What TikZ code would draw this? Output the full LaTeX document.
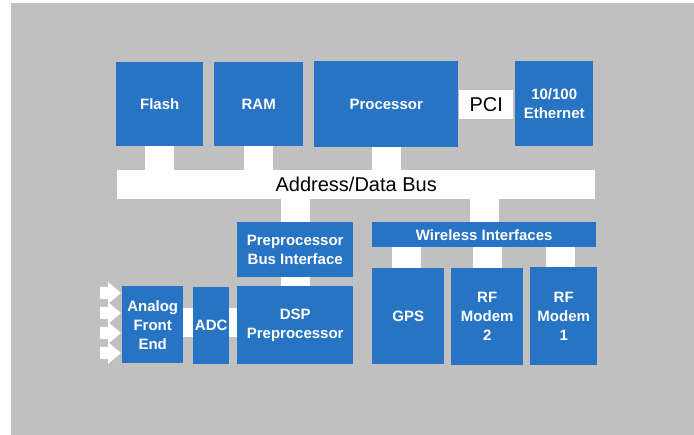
\documentclass[tikz,border=0pt]{standalone}
\usepackage{fontspec}
\setmainfont{Liberation Sans}
\definecolor{blockblue}{RGB}{40,116,196}
\definecolor{panelgray}{RGB}{192,192,192}
\begin{document}
\begin{tikzpicture}[x=1pt,y=-1pt,
  block/.style={fill=blockblue, text=white, inner sep=0pt, anchor=north west,
    align=center, font=\fontsize{15}{19}\selectfont\bfseries},
  whitebox/.style={fill=white, text=black, inner sep=0pt, anchor=north west,
    align=center, font=\fontsize{20}{24}\selectfont},
  bar/.style={draw=white, line width=29pt, line cap=butt},
  inarrow/.style={fill=white, draw=none}]
\useasboundingbox (0,0) rectangle (694,435);
\fill[panelgray] (11,3) rectangle (694,435);

% top row
\node[block, minimum width=87pt, minimum height=84pt] (flash) at (116,62) {Flash};
\node[block, minimum width=89pt, minimum height=84pt] (ram) at (214,62) {RAM};
\node[block, minimum width=144pt, minimum height=86pt] (proc) at (314,61) {Processor};
\node[whitebox, minimum width=54pt, minimum height=29pt] (pci) at (459,90) {PCI};
\node[block, minimum width=78pt, minimum height=85pt] (eth) at (515,61) {10/100\\Ethernet};

% system bus
\node[whitebox, minimum width=478pt, minimum height=29pt] (bus) at (117,170) {Address/Data Bus};

% DSP chain
\node[block, minimum width=116pt, minimum height=55pt] (pbi) at (237,222) {Preprocessor\\Bus Interface};
\node[block, minimum width=116pt, minimum height=78pt] (dsp) at (237,286) {DSP\\Preprocessor};
\node[block, minimum width=61pt, minimum height=77pt] (afe) at (122,286) {Analog\\Front\\End};
\node[block, minimum width=36pt, minimum height=77pt] (adc) at (193,287) {ADC};

% wireless side
\node[block, minimum width=224pt, minimum height=25pt] (wi) at (372,222) {Wireless Interfaces};
\node[block, minimum width=72pt, minimum height=96pt] (gps) at (372,268) {GPS};
\node[block, minimum width=72pt, minimum height=97pt] (rf2) at (451,268) {RF\\Modem\\2};
\node[block, minimum width=67pt, minimum height=98pt] (rf1) at (530,267) {RF\\Modem\\1};

% white bus links
\draw[bar] (flash.south) -- (flash.south |- bus.north);
\draw[bar] (ram.south) -- (ram.south |- bus.north);
\draw[bar] (proc.south) -- (proc.south |- bus.north);
\draw[bar] (pbi.north |- bus.south) -- (pbi.north);
\draw[bar] (pbi.south) -- (dsp.north);
\draw[bar] (wi.north |- bus.south) -- (wi.north);
\draw[bar] ([xshift=-1.5pt]gps.north |- wi.south) -- ([xshift=-1.5pt]gps.north);
\draw[bar] (rf2.north |- wi.south) -- (rf2.north);
\draw[bar] ([xshift=-3pt]rf1.north |- wi.south) -- ([xshift=-3pt]rf1.north);
\draw[bar] ([yshift=2pt]afe.east) -- ([yshift=2pt]afe.east -| adc.west);
\draw[bar] ([yshift=3.5pt]adc.east) -- ([yshift=3.5pt]adc.east -| dsp.west);

% analog inputs
\foreach \c in {293,313,333,353}{
  \fill[inarrow] (100,\c-6) -- (108,\c-6) -- (108,\c-11) -- (121,\c)
    -- (108,\c+11) -- (108,\c+6) -- (100,\c+6) -- cycle;
}
\end{tikzpicture}
\end{document}
